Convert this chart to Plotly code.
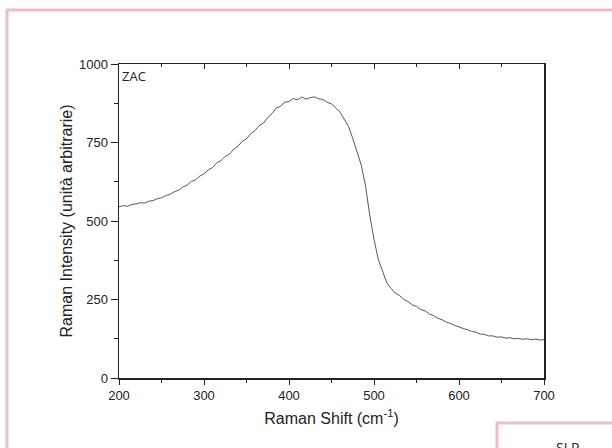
import plotly.graph_objects as go

raman_shift = list(range(200, 701, 5))
intensity = [
    545, 549, 547, 553, 554, 558, 557, 563, 565, 571,
    574, 581, 585, 593, 598, 608, 614, 626, 631, 643,
    650, 663, 670, 685, 692, 706, 713, 729, 738, 754,
    762, 778, 788, 804, 812, 830, 842, 860, 865, 879,
    880, 890, 886, 895, 888, 893, 895, 889, 887, 878,
    873, 860, 847, 824, 801, 763, 722, 678, 612, 518,
    442, 378, 341, 303, 286, 270, 263, 250, 244, 233,
    228, 218, 214, 204, 199, 190, 186, 178, 174, 167,
    163, 157, 154, 148, 146, 140, 139, 134, 134, 130,
    131, 127, 128, 125, 126, 123, 125, 122, 124, 121,
    122,
]

x_ticks = [200, 300, 400, 500, 600, 700]
y_ticks = [0, 250, 500, 750, 1000]

W, H = 612, 448
L, R, T, B = 119, 544, 64, 378


def px(x):
    return (x - L) / (R - L)


def py(y):
    return (B - y) / (B - T)


fig = go.Figure()
fig.add_trace(go.Scatter(x=raman_shift, y=intensity, mode="lines",
                         line=dict(color="#444444", width=0.9), showlegend=False,
                         hoverinfo="skip"))
fig.add_trace(go.Scatter(x=[200, 700], y=[0, 0], xaxis="x2", mode="lines",
                         line=dict(width=0), hoverinfo="skip", showlegend=False))

AX = "#222222"
font_tick = dict(family="Liberation Sans, Arial, sans-serif", size=13, color=AX)
font_title = dict(family="Liberation Sans, Arial, sans-serif", size=16, color=AX)

fig.update_layout(
    width=W, height=H,
    margin=dict(l=L, r=W - R, t=T, b=H - B),
    paper_bgcolor="white", plot_bgcolor="white",
    font=font_tick,
    xaxis=dict(
        range=[200, 700], tickvals=x_ticks, ticks="outside", ticklen=5, tickwidth=1,
        tickcolor=AX, showgrid=False, zeroline=False,
        showline=True, linecolor=AX, linewidth=1.5,
        minor=dict(dtick=50, tick0=200, ticks="outside", ticklen=3, tickcolor=AX, showgrid=False),
        title=dict(text="Raman Shift (cm<sup>-1</sup>)", font=font_title, standoff=10),
        tickfont=font_tick,
    ),
    xaxis2=dict(
        range=[200, 700], overlaying="x", side="top", tickvals=x_ticks, ticks="inside",
        ticklen=5, tickcolor=AX, showticklabels=False, showgrid=False, zeroline=False,
        showline=True, linecolor=AX, linewidth=1.5,
        minor=dict(dtick=50, tick0=200, ticks="inside", ticklen=3, tickcolor=AX, showgrid=False),
    ),
    yaxis=dict(
        range=[0, 1000], tickvals=y_ticks, ticks="outside", ticklen=7, tickwidth=1,
        tickcolor=AX, showgrid=False, zeroline=False,
        showline=True, linecolor=AX, linewidth=1.5, mirror=True,
        minor=dict(dtick=125, tick0=0, ticks="outside", ticklen=4, tickcolor=AX, showgrid=False),
        title=dict(text="Raman Intensity (unità arbitrarie)", font=font_title, standoff=2),
        tickfont=font_tick,
    ),
    shapes=[
        dict(type="rect", xref="paper", yref="paper",
             x0=px(7), x1=px(640), y0=py(480), y1=py(10),
             line=dict(color="#ebbdcd", width=3), layer="below"),
        dict(type="rect", xref="paper", yref="paper",
             x0=px(497), x1=px(640), y0=py(480), y1=py(423),
             line=dict(color="#ebbdcd", width=3), layer="below"),
    ],
    annotations=[
        dict(text="ZAC", xref="paper", yref="paper", x=px(120), y=py(65),
             xanchor="left", yanchor="top", showarrow=False,
             font=dict(family="Open Sans, sans-serif", size=13, color=AX)),
        dict(text="SLP", xref="paper", yref="paper", x=px(567), y=py(447),
             xanchor="center", yanchor="middle", showarrow=False,
             font=dict(family="Open Sans, sans-serif", size=14, color=AX)),
    ],
)

fig.write_html("out.html", config={"displayModeBar": False, "staticPlot": True},
               post_script="document.body.style.margin='0';")
